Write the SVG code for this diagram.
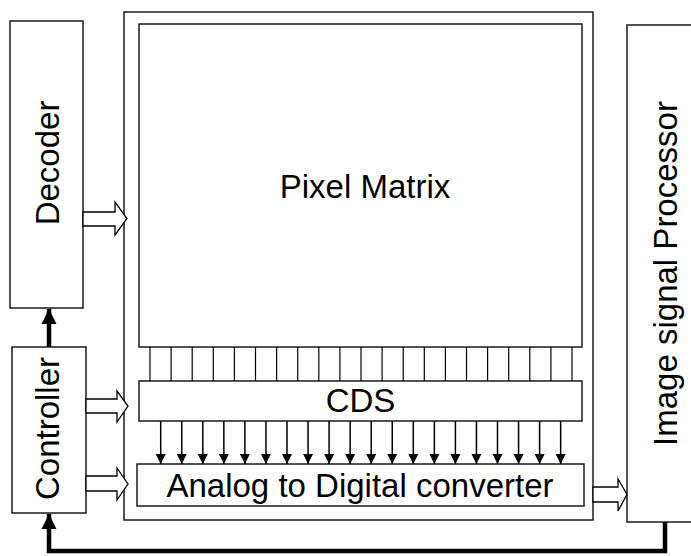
<svg xmlns="http://www.w3.org/2000/svg" width="691" height="556" viewBox="0 0 691 556">
<style>
.box{fill:#fff;stroke:#1a1a1a;stroke-width:1.5}
.txt{font-family:"Liberation Sans",Arial,sans-serif;font-size:33px;fill:#000}
.bus{fill:#fff;stroke:#000;stroke-width:1.3;stroke-linejoin:miter}
.wire{stroke:#000;stroke-width:1.2}
.sig{stroke:#000;stroke-width:1.5;marker-end:url(#ah)}
.thick{fill:none;stroke:#000;stroke-width:4.5;marker-end:url(#big)}
</style>
<defs>
<marker id="ah" viewBox="0 0 10 10" refX="10" refY="5" markerWidth="7" markerHeight="7" markerUnits="strokeWidth" orient="auto">
<path d="M0,0 L10,5 L0,10 z" fill="#000"/>
</marker>
<marker id="big" viewBox="0 0 10 10" refX="10" refY="5" markerWidth="3.4" markerHeight="3.6" markerUnits="strokeWidth" orient="auto">
<path d="M0,0 L10,5 L0,10 z" fill="#000"/>
</marker>
</defs>
<rect width="691" height="556" fill="#fff"/>

<g id="decoder">
<rect class="box" x="10" y="21" width="73" height="287"/>
<text class="txt" text-anchor="middle" transform="translate(58.5,163) rotate(-90)">Decoder</text>
</g>

<g id="controller">
<rect class="box" x="12" y="347" width="74" height="166"/>
<text class="txt" text-anchor="middle" transform="translate(58.5,428.5) rotate(-90)">Controller</text>
</g>

<g id="sensor">
<rect class="box" x="124" y="12" width="469" height="508"/>
</g>

<g id="pixel-matrix">
<rect class="box" x="139" y="24" width="443" height="323" stroke-width="2"/>
<text class="txt" x="365" y="198" text-anchor="middle">Pixel Matrix</text>
</g>

<g id="cds">
<rect class="box" x="139" y="381" width="443" height="40"/>
<text class="txt" x="360.5" y="412" text-anchor="middle">CDS</text>
</g>

<g id="adc">
<rect class="box" x="137" y="464" width="447" height="42"/>
<text class="txt" x="360" y="497" text-anchor="middle">Analog to Digital converter</text>
</g>

<g id="isp">
<rect class="box" x="627" y="25" width="80" height="497"/>
<text class="txt" text-anchor="middle" transform="translate(676.5,273.5) rotate(-90)">Image signal Processor</text>
</g>

<g id="connectors">
<!-- column wires pixel matrix to CDS -->
<g class="wire">
<line x1="150" y1="347" x2="150" y2="381"/>
<line x1="171.1" y1="347" x2="171.1" y2="381"/>
<line x1="192.2" y1="347" x2="192.2" y2="381"/>
<line x1="213.3" y1="347" x2="213.3" y2="381"/>
<line x1="234.4" y1="347" x2="234.4" y2="381"/>
<line x1="255.5" y1="347" x2="255.5" y2="381"/>
<line x1="276.6" y1="347" x2="276.6" y2="381"/>
<line x1="297.7" y1="347" x2="297.7" y2="381"/>
<line x1="318.8" y1="347" x2="318.8" y2="381"/>
<line x1="339.9" y1="347" x2="339.9" y2="381"/>
<line x1="361" y1="347" x2="361" y2="381"/>
<line x1="382.1" y1="347" x2="382.1" y2="381"/>
<line x1="403.2" y1="347" x2="403.2" y2="381"/>
<line x1="424.3" y1="347" x2="424.3" y2="381"/>
<line x1="445.4" y1="347" x2="445.4" y2="381"/>
<line x1="466.5" y1="347" x2="466.5" y2="381"/>
<line x1="487.6" y1="347" x2="487.6" y2="381"/>
<line x1="508.7" y1="347" x2="508.7" y2="381"/>
<line x1="529.8" y1="347" x2="529.8" y2="381"/>
<line x1="550.9" y1="347" x2="550.9" y2="381"/>
<line x1="572" y1="347" x2="572" y2="381"/>
</g>
<!-- CDS to ADC arrows -->
<g>
<line class="sig" x1="160.7" y1="421" x2="160.7" y2="464"/>
<line class="sig" x1="181.75" y1="421" x2="181.75" y2="464"/>
<line class="sig" x1="202.8" y1="421" x2="202.8" y2="464"/>
<line class="sig" x1="223.85" y1="421" x2="223.85" y2="464"/>
<line class="sig" x1="244.9" y1="421" x2="244.9" y2="464"/>
<line class="sig" x1="265.95" y1="421" x2="265.95" y2="464"/>
<line class="sig" x1="287" y1="421" x2="287" y2="464"/>
<line class="sig" x1="308.05" y1="421" x2="308.05" y2="464"/>
<line class="sig" x1="329.1" y1="421" x2="329.1" y2="464"/>
<line class="sig" x1="350.15" y1="421" x2="350.15" y2="464"/>
<line class="sig" x1="371.2" y1="421" x2="371.2" y2="464"/>
<line class="sig" x1="392.25" y1="421" x2="392.25" y2="464"/>
<line class="sig" x1="413.3" y1="421" x2="413.3" y2="464"/>
<line class="sig" x1="434.35" y1="421" x2="434.35" y2="464"/>
<line class="sig" x1="455.4" y1="421" x2="455.4" y2="464"/>
<line class="sig" x1="476.45" y1="421" x2="476.45" y2="464"/>
<line class="sig" x1="497.5" y1="421" x2="497.5" y2="464"/>
<line class="sig" x1="518.55" y1="421" x2="518.55" y2="464"/>
<line class="sig" x1="539.6" y1="421" x2="539.6" y2="464"/>
<line class="sig" x1="560.65" y1="421" x2="560.65" y2="464"/>
</g>
<!-- hollow bus arrows -->
<polygon class="bus" points="83,212 115,212 115,202 127,218.5 115,235 115,226 83,226"/>
<polygon class="bus" points="86,399 117,399 117,391 128,406 117,422 117,413 86,413"/>
<polygon class="bus" points="86,476 117,476 117,468 128,484 117,500 117,491 86,491"/>
<polygon class="bus" points="593,487 618,487 618,479 627,494.5 618,511 618,502 593,502"/>
<!-- thick control arrows -->
<line class="thick" x1="49" y1="347" x2="49" y2="309"/>
<polyline class="thick" points="665,522 665,551 49,551 49,514"/>
</g>
</svg>
